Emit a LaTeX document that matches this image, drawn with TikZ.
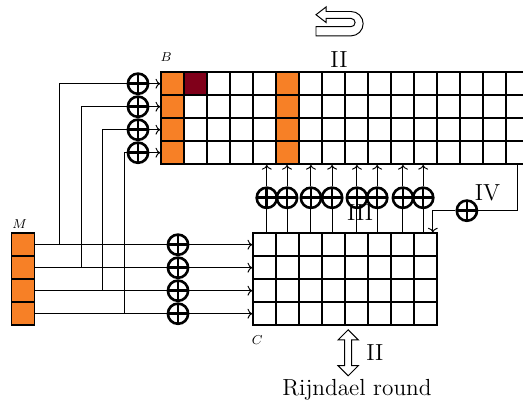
\documentclass[tikz,border=0pt]{standalone}
\usetikzlibrary{arrows.meta}
\definecolor{cellorange}{RGB}{247,128,38}
\definecolor{celldark}{RGB}{128,0,26}
\begin{document}
\begin{tikzpicture}[
  cell/.style={rectangle, draw, line width=0.9pt, minimum size=0.5cm, inner sep=0pt, fill=#1},
  cell/.default=none,
  xor/.style={circle, draw, line width=1.6pt, minimum size=0.44cm, inner sep=0pt,
    path picture={\draw[line width=1.6pt] (path picture bounding box.north) -- (path picture bounding box.south)
      (path picture bounding box.west) -- (path picture bounding box.east);}},
  wire/.style={line width=0.6pt},
  arr/.style={-{To}, line width=0.6pt},
  lbl/.style={font=\footnotesize},
  roman/.style={font=\Large}
]
\useasboundingbox (0,0) rectangle (11.37,8.87);

% state B
\foreach \r in {1,...,4}
  \foreach \c in {1,...,16}
    \node[cell] (b-\r-\c) at ({3.5+(\c-0.5)*0.5},{7.3-(\r-0.5)*0.5}) {};
\foreach \r in {1,...,4} {
  \node[cell=cellorange] at (b-\r-1) {};
  \node[cell=cellorange] at (b-\r-6) {};
}
\node[cell=celldark] at (b-1-2) {};

% state C
\foreach \r in {1,...,4}
  \foreach \c in {1,...,8}
    \node[cell] (c-\r-\c) at ({5.5+(\c-0.5)*0.5},{3.8-(\r-0.5)*0.5}) {};

% message M
\foreach \r in {1,...,4}
  \node[cell=cellorange] (m-\r) at (0.5,{3.8-(\r-0.5)*0.5}) {};

\node[lbl] (lb) at (3.61,7.63) {$B$};
\node[lbl] (lm) at (0.43,4.0) {$M$};
\node[lbl] (lc) at (5.59,1.48) {$C$};

% M into B and C
\foreach \r/\x in {1/1.3, 2/1.77, 3/2.23, 4/2.7} {
  \node[xor] (lx-\r) at (3.0,{7.3-(\r-0.5)*0.5}) {};
  \node[xor] (cx-\r) at (3.87,{3.8-(\r-0.5)*0.5}) {};
  \coordinate (tap-\r) at (\x,{3.8-(\r-0.5)*0.5});
  \draw[wire] (m-\r.east) -- (cx-\r);
  \draw[arr] (cx-\r) -- (c-\r-1.west);
  \draw[wire] (tap-\r) |- (lx-\r);
  \draw[arr] (lx-\r) -- (b-\r-1.west);
}

% C into B
\foreach \k/\j/\x in {1/5/5.80, 2/6/6.24, 3/7/6.76, 4/8/7.22, 5/9/7.76, 6/10/8.20, 7/11/8.76, 8/12/9.20} {
  \node[xor] (mx-\k) at (\x,4.57) {};
  \draw[wire] (mx-\k |- c-1-\k.north) -- (mx-\k);
  \draw[arr] (mx-\k) -- (mx-\k |- b-4-\j.south);
}
\node[roman] (iii) at (7.83,4.24) {III};

% feedback IV
\node[xor] (xiv) at (10.15,4.29) {};
\coordinate (ivturn) at (9.41,4.29);
\draw[wire] (b-4-16.south) |- (xiv);
\draw[arr] (xiv) -- (ivturn) -- (ivturn |- c-1-8.north);
\node[roman] (iv) at (10.6,4.67) {IV};

% top: II and u-turn
\node[roman] (ii) at (7.37,7.57) {II};
\draw[line width=0.6pt] (6.87,8.55) -- (7.09,8.72) -- (7.09,8.62) -- (7.63,8.62)
  arc (90:-90:0.265) -- (6.87,8.09) -- (6.87,8.29) -- (7.63,8.29)
  arc (-90:90:0.09) -- (7.09,8.47) -- (7.09,8.38) -- cycle;

% bottom: round
\draw[line width=0.6pt] (7.57,1.70) -- (7.79,1.48) -- (7.646,1.48) -- (7.646,0.92) -- (7.79,0.92)
  -- (7.57,0.70) -- (7.35,0.92) -- (7.494,0.92) -- (7.494,1.48) -- (7.35,1.48) -- cycle;
\node[roman] (iib) at (8.15,1.2) {II};
\node[roman] (rr) at (7.76,0.39) {Rijndael round};
\end{tikzpicture}
\end{document}
